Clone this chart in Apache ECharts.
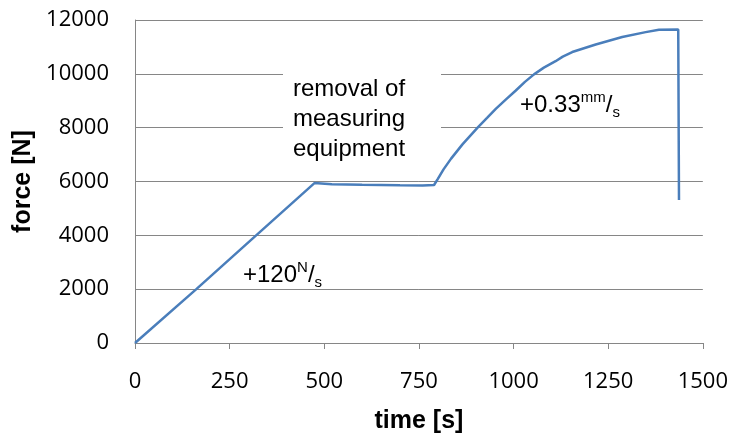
<!DOCTYPE html>
<html>
<head>
<meta charset="utf-8">
<script src="https://cdn.jsdelivr.net/npm/echarts@6/dist/echarts.min.js"></script>
<style>
html,body{margin:0;padding:0;background:#fff;}
#chart{width:731px;height:439px;}
</style>
</head>
<body>
<div id="chart"></div>
<script>
// Data
const timeS  = [0, 162, 320, 474, 520, 600, 700, 760, 790, 800, 815, 835, 865, 905, 930, 953, 980, 1006, 1030, 1054, 1080, 1111, 1130, 1155, 1217, 1287, 1349, 1384, 1435, 1437];
const forceN = [0, 2000, 4000, 5940, 5900, 5880, 5860, 5850, 5870, 6100, 6450, 6850, 7380, 8000, 8360, 8700, 9050, 9380, 9700, 9980, 10230, 10470, 10640, 10810, 11091, 11367, 11549, 11640, 11650, 5309];
const xTicks = [0, 250, 500, 750, 1000, 1250, 1500];
const yTicks = [0, 2000, 4000, 6000, 8000, 10000, 12000];
const xName = 'time [s]';
const yName = 'force [N]';
const noteRemoval = ['removal of', 'measuring', 'equipment'];

const points = timeS.map((t, i) => [t, forceN[i]]);
const gray = '#868686';
const tickFont = '"Open Sans", sans-serif';
const textFont = '"Liberation Sans", Arial, sans-serif';
const plain = v => String(v);

const chart = echarts.init(document.getElementById('chart'), null, {renderer: 'canvas'});
chart.setOption({
  animation: false,
  backgroundColor: '#ffffff',
  grid: {left: 135, right: 27, top: 20, bottom: 90, containLabel: false},
  xAxis: {
    type: 'value',
    min: xTicks[0], max: xTicks[xTicks.length - 1],
    interval: xTicks[1] - xTicks[0],
    name: xName, nameLocation: 'middle', nameGap: 66,
    nameTextStyle: {fontFamily: textFont, fontWeight: 'bold', fontSize: 25, color: '#000'},
    axisLine: {show: true, lineStyle: {color: gray, width: 1}},
    axisTick: {show: true, length: 6, lineStyle: {color: gray}},
    axisLabel: {fontFamily: tickFont, fontSize: 22, color: '#000', margin: 28, formatter: plain},
    splitLine: {show: false}
  },
  yAxis: {
    type: 'value',
    min: yTicks[0], max: yTicks[yTicks.length - 1],
    interval: yTicks[1] - yTicks[0],
    name: yName, nameLocation: 'middle', nameGap: 87, nameRotate: 90,
    nameTextStyle: {fontFamily: textFont, fontWeight: 'bold', fontSize: 25, color: '#000'},
    axisLine: {show: true, lineStyle: {color: gray, width: 1}},
    axisTick: {show: false},
    axisLabel: {fontFamily: tickFont, fontSize: 22, color: '#000', margin: 26, formatter: plain},
    splitLine: {show: true, lineStyle: {color: gray, width: 1}}
  },
  series: [{
    type: 'line',
    data: points,
    showSymbol: false,
    symbol: 'none',
    lineStyle: {color: '#4a7ebb', width: 2.5},
    z: 3
  }],
  graphic: [
    {
      type: 'rect', z: 100,
      shape: {x: 283, y: 62, width: 158, height: 108},
      style: {fill: '#ffffff'}
    },
    {
      type: 'text', z: 101,
      style: {
        x: 293, y: 74,
        text: noteRemoval.join('\n'),
        font: '24px ' + textFont,
        lineHeight: 30,
        fill: '#000',
        textAlign: 'left', textVerticalAlign: 'top'
      }
    },
    {
      type: 'text', z: 101,
      style: {
        x: 243, y: 260,
        text: '{a|+120}{b|N}{c|/}{d|s}',
        textAlign: 'left', textVerticalAlign: 'top',
        rich: {
          a: {fontFamily: textFont, fontSize: 24, lineHeight: 30, fill: '#000', color: '#000'},
          b: {fontFamily: textFont, fontSize: 15, lineHeight: 16, verticalAlign: 'top', fill: '#000', color: '#000'},
          c: {fontFamily: textFont, fontSize: 24, lineHeight: 30, fill: '#000', color: '#000'},
          d: {fontFamily: textFont, fontSize: 15, lineHeight: 14, verticalAlign: 'bottom', fill: '#000', color: '#000'}
        }
      }
    },
    {
      type: 'text', z: 101,
      style: {
        x: 520, y: 90,
        text: '{a|+0.33}{b|mm}{c|/}{d|s}',
        textAlign: 'left', textVerticalAlign: 'top',
        rich: {
          a: {fontFamily: textFont, fontSize: 24, lineHeight: 30, fill: '#000', color: '#000'},
          b: {fontFamily: textFont, fontSize: 15, lineHeight: 16, verticalAlign: 'top', fill: '#000', color: '#000'},
          c: {fontFamily: textFont, fontSize: 24, lineHeight: 30, fill: '#000', color: '#000'},
          d: {fontFamily: textFont, fontSize: 15, lineHeight: 14, verticalAlign: 'bottom', fill: '#000', color: '#000'}
        }
      }
    }
  ]
});
</script>
</body>
</html>
